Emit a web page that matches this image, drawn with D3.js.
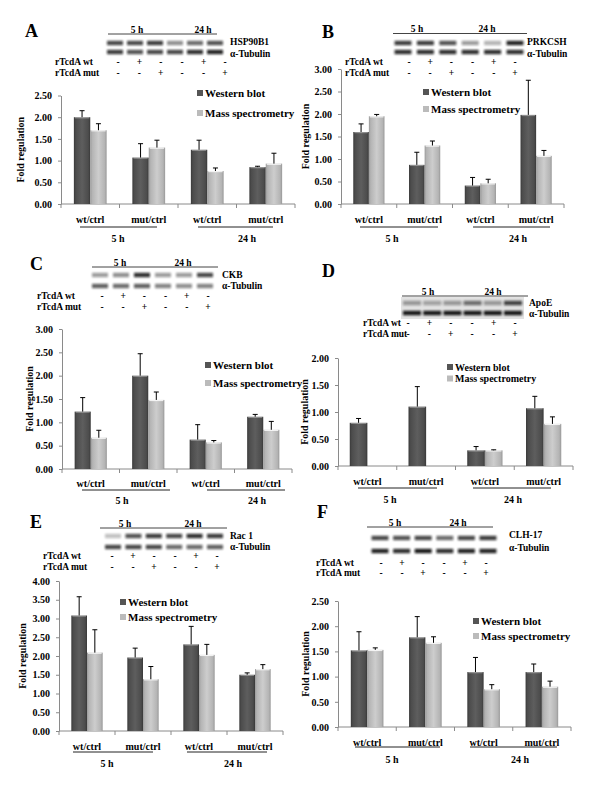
<!DOCTYPE html>
<html><head><meta charset="utf-8">
<script src="https://cdn.jsdelivr.net/npm/d3@7"></script>
<style>
body{margin:0;background:#fff}
svg{display:block}
text{font-family:"Liberation Serif","Times New Roman",serif;font-weight:bold;fill:#000}
</style>
</head><body>
<svg id="c" width="600" height="800"></svg>
<script>
// ---------- shared labels ----------
const categories = ["wt/ctrl","mut/ctrl","wt/ctrl","mut/ctrl"];
const timeLabels = ["5 h","24 h"];
const seriesNames = ["Western blot","Mass spectrometry"];
const treatRowLabels = ["rTcdA wt","rTcdA mut"];
const treatWt  = ["-","+","-","-","+","-"];
const treatMut = ["-","-","+","-","-","+"];
const loadingControl = "α-Tubulin";

// ---------- Panel A : HSP90B1 ----------
const aProtein = "HSP90B1";
const aWB   = [2.00, 1.07, 1.25, 0.85];
const aWBsd = [0.15, 0.32, 0.22, 0.02];
const aMS   = [1.70, 1.30, 0.76, 0.93];
const aMSsd = [0.15, 0.17, 0.07, 0.24];
const aTicks = [0, 0.5, 1.0, 1.5, 2.0, 2.5];
const aBandProt = [0.75, 0.75, 0.8, 0.45, 0.6, 0.7];
const aBandTub  = [0.8, 0.7, 0.75, 0.75, 0.85, 0.9];

// ---------- Panel B : PRKCSH ----------
const bProtein = "PRKCSH";
const bWB   = [1.60, 0.87, 0.41, 1.98];
const bWBsd = [0.18, 0.28, 0.18, 0.77];
const bMS   = [1.95, 1.30, 0.46, 1.07];
const bMSsd = [0.04, 0.10, 0.09, 0.12];
const bTicks = [0, 0.5, 1.0, 1.5, 2.0, 2.5, 3.0];
const bBandProt = [0.8, 0.8, 0.7, 0.4, 0.3, 0.9];
const bBandTub  = [0.85, 0.85, 0.85, 0.85, 0.85, 0.85];

// ---------- Panel C : CKB ----------
const cProtein = "CKB";
const cWB   = [1.23, 2.00, 0.63, 1.12];
const cWBsd = [0.30, 0.47, 0.32, 0.05];
const cMS   = [0.67, 1.48, 0.57, 0.84];
const cMSsd = [0.16, 0.17, 0.04, 0.18];
const cTicks = [0, 0.5, 1.0, 1.5, 2.0, 2.5, 3.0];
const cBandProt = [0.4, 0.45, 0.85, 0.4, 0.4, 0.75];
const cBandTub  = [0.65, 0.6, 0.65, 0.5, 0.45, 0.5];

// ---------- Panel D : ApoE ----------
const dProtein = "ApoE";
const dWB   = [0.80, 1.10, 0.29, 1.07];
const dWBsd = [0.08, 0.37, 0.07, 0.22];
const dMS   = [null, null, 0.29, 0.78];
const dMSsd = [null, null, 0.01, 0.13];
const dTicks = [0, 0.5, 1.0, 1.5, 2.0];
const dBandProt = [0.35, 0.3, 0.35, 0.55, 0.35, 0.75];
const dBandTub  = [0.95, 0.95, 0.95, 0.95, 0.95, 0.95];

// ---------- Panel E : Rac 1 ----------
const eProtein = "Rac 1";
const eWB   = [3.08, 1.96, 2.31, 1.50];
const eWBsd = [0.50, 0.25, 0.48, 0.05];
const eMS   = [2.09, 1.38, 2.03, 1.65];
const eMSsd = [0.61, 0.34, 0.28, 0.12];
const eTicks = [0, 0.5, 1.0, 1.5, 2.0, 2.5, 3.0, 3.5, 4.0];
const eBandProt = [0.25, 0.7, 0.8, 0.75, 0.85, 0.8];
const eBandTub  = [0.75, 0.75, 0.75, 0.6, 0.6, 0.65];

// ---------- Panel F : CLH-17 ----------
const fProtein = "CLH-17";
const fWB   = [1.52, 1.78, 1.09, 1.09];
const fWBsd = [0.37, 0.41, 0.29, 0.16];
const fMS   = [1.53, 1.67, 0.75, 0.80];
const fMSsd = [0.04, 0.12, 0.09, 0.11];
const fTicks = [0, 0.5, 1.0, 1.5, 2.0, 2.5];
const fBandProt = [0.75, 0.7, 0.75, 0.6, 0.75, 0.8];
const fBandTub  = [0.9, 0.85, 0.95, 0.85, 0.9, 0.9];

// ---------- layout (positions only) ----------
const layouts = {
  A:{letter:[25,37],
     blot:{x0:108,x1:217,y:34,t5:137,t24:203,l0:115,l1:215,bw:16,py:43,ty:52,lx:230,lpy:42,lty:54,bg:false},
     treat:{x:55,y1:62,y2:73,s0:118,s1:225},
     chart:{x0:61,x1:295,y0:204,yTop:95.5,pad:0.22},
     xl:{y:219,uy:227,u5:[80,157],u24:[198,273],ty:238,t5:118,t24:247},
     yt:{x:20},
     leg:{x:197,y1:93,y2:113,fs:11}},
  B:{letter:[322,38],
     blot:{x0:393,x1:527,y:33.5,t5:417,t24:487,l0:403,l1:515,bw:17,py:43,ty:52,lx:527,lpy:41.5,lty:53.5,bg:false},
     treat:{x:345,y1:62,y2:73,s0:409,s1:515},
     chart:{x0:341,x1:564,y0:204,yTop:69,pad:0.22},
     xl:{y:219,uy:227,u5:[360,438],u24:[473,550],ty:238,t5:392,t24:518},
     yt:{x:305},
     leg:{x:423,y1:92,y2:109,fs:11}},
  C:{letter:[30,270],
     blot:{x0:92,x1:218,y:267,t5:120,t24:183,l0:100,l1:205,bw:16,py:275,ty:286,lx:222,lpy:275,lty:286,bg:false},
     treat:{x:37,y1:296,y2:307,s0:102,s1:208},
     chart:{x0:62,x1:292,y0:469,yTop:329,pad:0.22},
     xl:{y:483,uy:490,u5:[82,170],u24:[207,285],ty:500,t5:122,t24:257},
     yt:{x:29},
     leg:{x:205,y1:365,y2:383,fs:11}},
  D:{letter:[322,277],
     blot:{x0:402,x1:528,y:296,t5:428,t24:493,l0:412,l1:513,bw:18,py:303,ty:313,lx:529,lpy:302.5,lty:313.5,bg:true},
     treat:{x:363,y1:323,y2:334,s0:408,s1:515},
     chart:{x0:338,x1:573,y0:466,yTop:358,pad:0.2},
     xl:{y:481,uy:488,u5:[358,437],u24:[473,551],ty:499,t5:390,t24:513},
     yt:{x:304},
     leg:{x:447,y1:367,y2:378.5,fs:10}},
  E:{letter:[30,528],
     blot:{x0:100,x1:227,y:528,t5:125,t24:193,l0:113,l1:215,bw:16,py:536,ty:547,lx:230,lpy:536,lty:547,bg:false},
     treat:{x:43,y1:556,y2:567,s0:112,s1:217},
     chart:{x0:59,x1:283,y0:731,yTop:581,pad:0.22},
     xl:{y:746,uy:752,u5:[73,153],u24:[187,267],ty:763,t5:107,t24:233},
     yt:{x:22},
     leg:{x:120,y1:602,y2:617,fs:11}},
  F:{letter:[317,518],
     blot:{x0:367,x1:493,y:527,t5:395,t24:458,l0:380,l1:488,bw:17,py:538,ty:551,lx:509,lpy:535,lty:548,bg:false},
     treat:{x:316,y1:563,y2:573,s0:381,s1:486},
     chart:{x0:338,x1:571,y0:727,yTop:601,pad:0.22},
     xl:{y:742,uy:747,u5:[355,440],u24:[470,557],ty:759,t5:392,t24:520},
     yt:{x:305},
     leg:{x:473,y1:621,y2:636,fs:11}}
};

const panels = [
  {letter:"A",protein:aProtein,wb:aWB,wbsd:aWBsd,ms:aMS,mssd:aMSsd,ticks:aTicks,bp:aBandProt,bt:aBandTub},
  {letter:"B",protein:bProtein,wb:bWB,wbsd:bWBsd,ms:bMS,mssd:bMSsd,ticks:bTicks,bp:bBandProt,bt:bBandTub},
  {letter:"C",protein:cProtein,wb:cWB,wbsd:cWBsd,ms:cMS,mssd:cMSsd,ticks:cTicks,bp:cBandProt,bt:cBandTub},
  {letter:"D",protein:dProtein,wb:dWB,wbsd:dWBsd,ms:dMS,mssd:dMSsd,ticks:dTicks,bp:dBandProt,bt:dBandTub},
  {letter:"E",protein:eProtein,wb:eWB,wbsd:eWBsd,ms:eMS,mssd:eMSsd,ticks:eTicks,bp:eBandProt,bt:eBandTub},
  {letter:"F",protein:fProtein,wb:fWB,wbsd:fWBsd,ms:fMS,mssd:fMSsd,ticks:fTicks,bp:fBandProt,bt:fBandTub}
];

const svg = d3.select("#c");
const defs = svg.append("defs");
function grad(id, stops){
  const g = defs.append("linearGradient").attr("id",id).attr("x1","0").attr("x2","1").attr("y1","0").attr("y2","0");
  stops.forEach(s=>g.append("stop").attr("offset",s[0]).attr("stop-color",s[1]));
}
grad("gWB",[[0,"#3a3a3a"],[0.12,"#4c4c4c"],[0.5,"#5e5e5e"],[0.88,"#4c4c4c"],[1,"#383838"]]);
grad("gMS",[[0,"#9a9a9a"],[0.12,"#b4b4b4"],[0.5,"#cdcdcd"],[0.88,"#b4b4b4"],[1,"#989898"]]);
defs.append("filter").attr("id","blur").attr("x","-30%").attr("y","-100%").attr("width","160%").attr("height","300%")
  .append("feGaussianBlur").attr("stdDeviation",1);
const fills = ["url(#gWB)","url(#gMS)"];
const legFills = ["#555","#bbb"];

function drawPanel(p, L){
  const g = svg.append("g");
  g.append("text").attr("x",L.letter[0]).attr("y",L.letter[1]).attr("font-size",18).text(p.letter);

  // blot
  const b = L.blot;
  const lanes = d3.scalePoint().domain(d3.range(6)).range([b.l0,b.l1]);
  if (b.bg) g.append("rect").attr("x",b.l0-b.bw/2-2).attr("y",b.py-6).attr("width",b.l1-b.l0+b.bw+4).attr("height",b.ty-b.py+12).attr("fill","#e2e2e2");
  g.append("line").attr("x1",b.x0).attr("x2",b.x1).attr("y1",b.y).attr("y2",b.y).attr("stroke","#444").attr("stroke-width",1);
  g.append("text").attr("x",b.t5).attr("y",b.y-1.5).attr("text-anchor","middle").attr("font-size",9.5).text(timeLabels[0]);
  g.append("text").attr("x",b.t24).attr("y",b.y-1.5).attr("text-anchor","middle").attr("font-size",9.5).text(timeLabels[1]);
  [[p.bp,b.py],[p.bt,b.ty]].forEach(([arr,yy])=>{
    g.selectAll(null).data(arr).enter().append("rect")
      .attr("x",(d,i)=>lanes(i)-b.bw/2).attr("y",yy-2.2).attr("width",b.bw).attr("height",4.4)
      .attr("fill","#111").attr("opacity",d=>d).attr("filter","url(#blur)");
  });
  g.append("text").attr("x",b.lx).attr("y",b.lpy).attr("dy","0.35em").attr("font-size",9.5).text(p.protein);
  g.append("text").attr("x",b.lx).attr("y",b.lty).attr("dy","0.35em").attr("font-size",9.5).text(loadingControl);

  // treatment table
  const t = L.treat;
  const signs = d3.scalePoint().domain(d3.range(6)).range([t.s0,t.s1]);
  g.append("text").attr("x",t.x).attr("y",t.y1).attr("dy","0.35em").attr("font-size",9.5).text(treatRowLabels[0]);
  g.append("text").attr("x",t.x).attr("y",t.y2).attr("dy","0.35em").attr("font-size",9.5).text(treatRowLabels[1]);
  [[treatWt,t.y1],[treatMut,t.y2]].forEach(([arr,yy])=>{
    g.selectAll(null).data(arr).enter().append("text")
      .attr("x",(d,i)=>signs(i)).attr("y",yy).attr("dy","0.35em").attr("text-anchor","middle").attr("font-size",9.5).text(d=>d);
  });

  // chart
  const c = L.chart;
  const y = d3.scaleLinear().domain([0,d3.max(p.ticks)]).range([c.y0,c.yTop]);
  const x = d3.scaleBand().domain(d3.range(4)).range([c.x0,c.x1]);
  const sub = d3.scaleBand().domain([0,1]).range([x.bandwidth()*c.pad, x.bandwidth()*(1-c.pad)]);

  const ya = g.append("g").attr("transform",`translate(${c.x0},0)`)
    .call(d3.axisLeft(y).tickValues(p.ticks).tickFormat(d3.format(".2f")).tickSize(3).tickSizeOuter(0).tickPadding(6));
  ya.select(".domain").attr("stroke","#8a8a8a");
  ya.selectAll(".tick line").attr("stroke","#8a8a8a");
  ya.selectAll(".tick text").attr("font-size",10).attr("font-family","Liberation Serif, serif").attr("font-weight","bold").attr("fill","#000");

  g.append("line").attr("x1",c.x0).attr("x2",c.x1).attr("y1",c.y0).attr("y2",c.y0).attr("stroke","#8a8a8a");
  g.selectAll(null).data(d3.range(5)).enter().append("line")
    .attr("x1",i=>i<4?x(i):c.x1).attr("x2",i=>i<4?x(i):c.x1).attr("y1",c.y0).attr("y2",c.y0+4).attr("stroke","#8a8a8a");

  const series = [[p.wb,p.wbsd],[p.ms,p.mssd]];
  series.forEach(([vals,sds],s)=>{
    vals.forEach((v,i)=>{
      if (v==null) return;
      const bx = x(i)+sub(s), bw = sub.bandwidth();
      g.append("rect").attr("x",bx).attr("y",y(v)).attr("width",bw).attr("height",c.y0-y(v)).attr("fill",fills[s]);
      g.append("rect").attr("x",bx+1).attr("y",y(v)).attr("width",bw-2).attr("height",1.2).attr("fill","#fff").attr("opacity",s?0.8:0.35);
      const sd = sds[i];
      if (sd!=null && sd>0){
        const cx = bx+bw/2;
        g.append("line").attr("x1",cx).attr("x2",cx).attr("y1",y(v)).attr("y2",y(v+sd)).attr("stroke","#000").attr("stroke-width",1);
        g.append("line").attr("x1",cx-2.5).attr("x2",cx+2.5).attr("y1",y(v+sd)).attr("y2",y(v+sd)).attr("stroke","#000").attr("stroke-width",1);
      }
    });
  });

  // x labels
  const xl = L.xl;
  g.selectAll(null).data(categories).enter().append("text")
    .attr("x",(d,i)=>x(i)+x.bandwidth()/2).attr("y",xl.y).attr("dy","0.35em").attr("text-anchor","middle").attr("font-size",10).text(d=>d);
  [xl.u5,xl.u24].forEach(u=>g.append("line").attr("x1",u[0]).attr("x2",u[1]).attr("y1",xl.uy).attr("y2",xl.uy).attr("stroke","#222").attr("stroke-width",1));
  g.append("text").attr("x",xl.t5).attr("y",xl.ty).attr("dy","0.35em").attr("text-anchor","middle").attr("font-size",10).text(timeLabels[0]);
  g.append("text").attr("x",xl.t24).attr("y",xl.ty).attr("dy","0.35em").attr("text-anchor","middle").attr("font-size",10).text(timeLabels[1]);

  // y title
  const ym = (c.y0+c.yTop)/2;
  g.append("text").attr("transform",`translate(${L.yt.x},${ym}) rotate(-90)`).attr("text-anchor","middle").attr("dy","0.35em").attr("font-size",10).text("Fold regulation");

  // legend
  const lg = L.leg;
  [lg.y1,lg.y2].forEach((yy,s)=>{
    g.append("rect").attr("x",lg.x).attr("y",yy-3).attr("width",6).attr("height",6).attr("fill",legFills[s]);
    g.append("text").attr("x",lg.x+8).attr("y",yy).attr("dy","0.35em").attr("font-size",lg.fs).text(seriesNames[s]);
  });
}

panels.forEach(p=>drawPanel(p, layouts[p.letter]));
</script>
</body></html>
